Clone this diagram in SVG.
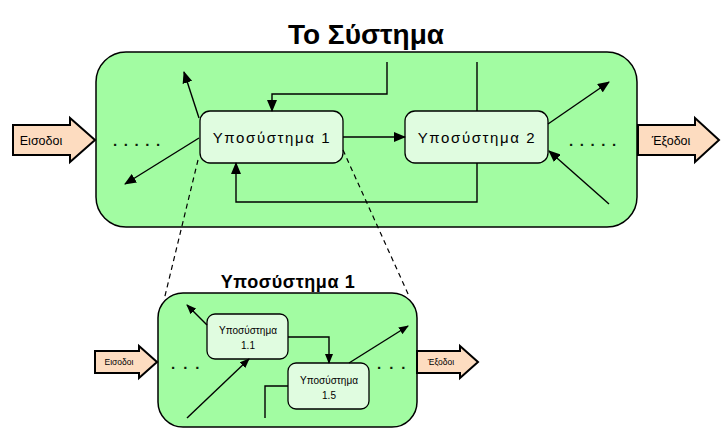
<svg xmlns="http://www.w3.org/2000/svg" width="723" height="435" viewBox="0 0 723 435">
<defs>
<marker id="ah" markerWidth="12" markerHeight="10" refX="11" refY="5" orient="auto" markerUnits="userSpaceOnUse">
<path d="M0,0 L12,5 L0,10 Z" fill="#000"/>
</marker>
<marker id="ahs" markerWidth="10" markerHeight="8" refX="9" refY="4" orient="auto" markerUnits="userSpaceOnUse">
<path d="M0,0 L10,4 L0,8 Z" fill="#000"/>
</marker>
<style>
.sys{fill:#a2fca2;stroke:#000;stroke-width:1.5}
.box{fill:#e0fce0;stroke:#000;stroke-width:1.3}
.io{fill:#fddcc0;stroke:#000;stroke-width:2}
.ln{fill:none;stroke:#000;stroke-width:1.4}
.dash{fill:none;stroke:#000;stroke-width:1.2;stroke-dasharray:5 4}
.t{font-family:"Liberation Sans",Arial,sans-serif;fill:#000}
.dots{font-family:"Liberation Sans",Arial,sans-serif;fill:#0a200a;font-size:15px;font-weight:bold}
</style>
</defs>
<g id="title"><text class="t" x="366" y="44" font-size="28" font-weight="bold" text-anchor="middle">Το Σύστημα</text></g>
<g id="system"><rect class="sys" x="96" y="52" width="541" height="175" rx="30" ry="30"/></g>
<g id="inputs"><path class="io" d="M13,125 H70 V118 L95,140 L70,162 V155 H13 Z"/><text class="t" x="41" y="145" font-size="12.5" text-anchor="middle">Εισοδοι</text></g>
<g id="outputs"><path class="io" d="M638,125 H695 V118 L719,140 L695,162 V155 H638 Z"/><text class="t" x="671" y="145" font-size="12.5" text-anchor="middle">Έξοδοι</text></g>
<g id="dots-main">
<text class="dots" x="113" y="146" letter-spacing="6.6">.....</text>
<text class="dots" x="569" y="146" letter-spacing="6.6">.....</text>
</g>
<g id="subsystem1"><rect class="box" x="200" y="111" width="143" height="52" rx="10" ry="10"/><text class="t" x="272" y="143" font-size="15" letter-spacing="1.6" text-anchor="middle">Υποσύστημα 1</text></g>
<g id="subsystem2"><rect class="box" x="405" y="111" width="143" height="52" rx="10" ry="10"/><text class="t" x="477" y="143" font-size="15" letter-spacing="1.6" text-anchor="middle">Υποσύστημα 2</text></g>
<g id="connectors">
<line class="ln" x1="199" y1="118" x2="184" y2="72" marker-end="url(#ah)"/>
<line class="ln" x1="199" y1="138" x2="125" y2="184" marker-end="url(#ah)"/>
<polyline class="ln" points="387,62 387,94 272,94 272,111" marker-end="url(#ah)"/>
<line class="ln" x1="343" y1="137" x2="405" y2="137" marker-end="url(#ah)"/>
<line class="ln" x1="477" y1="62" x2="477" y2="111"/>
<polyline class="ln" points="477,163 477,202 236,202 236,163" marker-end="url(#ah)"/>
<line class="ln" x1="548" y1="124" x2="609" y2="82" marker-end="url(#ah)"/>
<line class="ln" x1="609" y1="204" x2="549" y2="151" marker-end="url(#ah)"/>
<line class="dash" x1="198" y1="160" x2="164" y2="300"/>
<line class="dash" x1="343" y1="150" x2="409" y2="296"/>
</g>
<g id="sub-title"><text class="t" x="288" y="288" font-size="18" font-weight="bold" letter-spacing="0.6" text-anchor="middle">Υποσύστημα 1</text></g>
<g id="sub-system"><rect class="sys" x="158" y="293" width="259" height="134" rx="25" ry="25"/></g>
<g id="sub-inputs"><path class="io" d="M95,351 H139 V346 L157,362 L139,378 V373 H95 Z" stroke-width="1.6"/><text class="t" x="119" y="365" font-size="8.5" text-anchor="middle">Εισοδοι</text></g>
<g id="sub-outputs"><path class="io" d="M417,351 H460 V346 L478,362 L460,378 V373 H417 Z" stroke-width="1.6"/><text class="t" x="441" y="365" font-size="8.5" text-anchor="middle">Έξοδοι</text></g>
<g id="dots-sub">
<text class="dots" x="171" y="369" letter-spacing="8">...</text>
<text class="dots" x="377" y="369" letter-spacing="8">...</text>
</g>
<g id="subsystem11"><rect class="box" x="207" y="314" width="81" height="45" rx="8" ry="8"/><text class="t" x="248" y="334" font-size="10" text-anchor="middle">Υποσύστημα</text><text class="t" x="248" y="349" font-size="10" text-anchor="middle">1.1</text></g>
<g id="subsystem15"><rect class="box" x="288" y="363" width="81" height="46" rx="8" ry="8"/><text class="t" x="329" y="384" font-size="10" text-anchor="middle">Υποσύστημα</text><text class="t" x="329" y="399" font-size="10" text-anchor="middle">1.5</text></g>
<g id="sub-connectors">
<polyline class="ln" points="288,337 329,337 329,363" marker-end="url(#ahs)"/>
<line class="ln" x1="207" y1="325" x2="187" y2="305" marker-end="url(#ahs)"/>
<line class="ln" x1="187" y1="418" x2="249" y2="359" marker-end="url(#ahs)"/>
<polyline class="ln" points="265,418 265,386 288,386"/>
<line class="ln" x1="349" y1="363" x2="408" y2="326" marker-end="url(#ahs)"/>
</g>
</svg>
